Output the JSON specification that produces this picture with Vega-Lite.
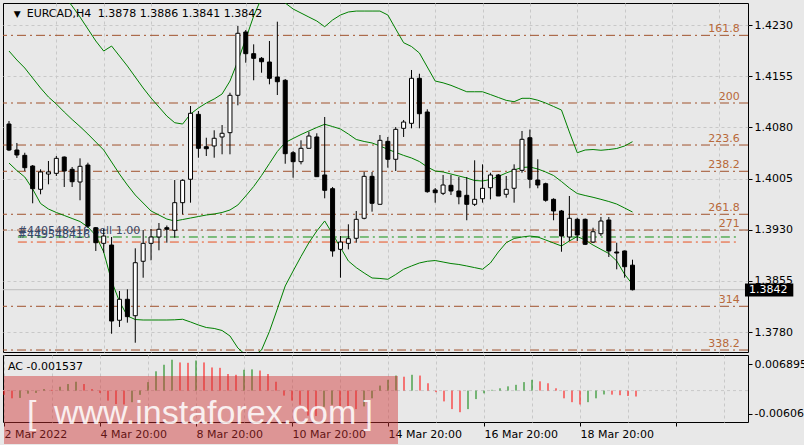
{
"$schema":"https://vega.github.io/schema/vega-lite/v6.json",
"background":"#E8E8E8",
"padding":{"left":2,"top":2,"right":0,"bottom":0},
"autosize":{"type":"pad"},
"spacing":3,
"bounds":"flush",
"config":{"view":{"stroke":"#000000","strokeWidth":1,"fill":"#E8E8E8"},"axis":{"labelFont":"DejaVu Sans","labelFontSize":11,"labelColor":"#000000","domain":false,"tickColor":"#000000"},"text":{"font":"DejaVu Sans","fontSize":11}},
"datasets":{
"fib":[{"lvl":"161.8","p":1.42149},{"lvl":"200","p":1.41157},{"lvl":"223.6","p":1.40541},{"lvl":"238.2","p":1.40156},{"lvl":"261.8","p":1.39526},{"lvl":"271","p":1.39295},{"lvl":"314","p":1.38177},{"lvl":"338.2","p":1.37536}],
"bars":[
{"i":0,"o":1.40849,"h":1.40893,"l":1.40453,"c":1.40468,"bu":1.43678,"bm":1.41919,"bl":1.40277,"ac":-0.0011,"d":"dn"},
{"i":1,"o":1.40468,"h":1.40571,"l":1.40351,"c":1.40395,"bu":1.43531,"bm":1.41787,"bl":1.40167,"ac":-0.0020,"d":"dn"},
{"i":2,"o":1.40390,"h":1.40428,"l":1.40160,"c":1.40209,"bu":1.43385,"bm":1.41670,"bl":1.40072,"ac":-0.0019,"d":"up"},
{"i":3,"o":1.40233,"h":1.40248,"l":1.39687,"c":1.39901,"bu":1.43238,"bm":1.41523,"bl":1.39896,"ac":-0.0008,"d":"up"},
{"i":4,"o":1.39892,"h":1.40185,"l":1.39819,"c":1.40146,"bu":1.43092,"bm":1.41377,"bl":1.39684,"ac":-0.0006,"d":"up"},
{"i":5,"o":1.40116,"h":1.40307,"l":1.39965,"c":1.40146,"bu":1.42945,"bm":1.41245,"bl":1.39603,"ac":0.0004,"d":"up"},
{"i":6,"o":1.40126,"h":1.40380,"l":1.40087,"c":1.40346,"bu":1.42828,"bm":1.41142,"bl":1.39552,"ac":0.0002,"d":"dn"},
{"i":7,"o":1.40365,"h":1.40373,"l":1.39926,"c":1.40160,"bu":1.42725,"bm":1.41025,"bl":1.39508,"ac":0.0010,"d":"up"},
{"i":8,"o":1.40185,"h":1.40219,"l":1.39926,"c":1.40003,"bu":1.42579,"bm":1.40915,"bl":1.39464,"ac":0.0017,"d":"up"},
{"i":9,"o":1.39999,"h":1.40346,"l":1.39731,"c":1.40229,"bu":1.42417,"bm":1.40812,"bl":1.39420,"ac":0.0023,"d":"up"},
{"i":10,"o":1.40248,"h":1.40282,"l":1.39325,"c":1.39354,"bu":1.42242,"bm":1.40702,"bl":1.39339,"ac":0.0017,"d":"dn"},
{"i":11,"o":1.39329,"h":1.39339,"l":1.38988,"c":1.39109,"bu":1.42066,"bm":1.40585,"bl":1.39215,"ac":0.0004,"d":"dn"},
{"i":12,"o":1.39100,"h":1.39310,"l":1.38963,"c":1.39207,"bu":1.41919,"bm":1.40468,"bl":1.38973,"ac":-0.0006,"d":"dn"},
{"i":13,"o":1.39075,"h":1.39193,"l":1.37775,"c":1.37961,"bu":1.41992,"bm":1.40292,"bl":1.38548,"ac":-0.0026,"d":"dn"},
{"i":14,"o":1.37972,"h":1.38401,"l":1.37874,"c":1.38280,"bu":1.41846,"bm":1.40116,"bl":1.38247,"ac":-0.0035,"d":"dn"},
{"i":15,"o":1.38280,"h":1.38426,"l":1.37937,"c":1.38025,"bu":1.41699,"bm":1.39955,"bl":1.38035,"ac":-0.0036,"d":"dn"},
{"i":16,"o":1.38039,"h":1.39027,"l":1.37643,"c":1.38816,"bu":1.41538,"bm":1.39808,"bl":1.37983,"ac":-0.0030,"d":"up"},
{"i":17,"o":1.38837,"h":1.39295,"l":1.38596,"c":1.39100,"bu":1.41377,"bm":1.39691,"bl":1.37976,"ac":-0.0011,"d":"up"},
{"i":18,"o":1.39100,"h":1.39310,"l":1.38851,"c":1.39193,"bu":1.41230,"bm":1.39574,"bl":1.37976,"ac":0.0022,"d":"up"},
{"i":19,"o":1.39193,"h":1.39398,"l":1.38998,"c":1.39306,"bu":1.41098,"bm":1.39515,"bl":1.37976,"ac":0.0050,"d":"up"},
{"i":20,"o":1.39329,"h":1.39361,"l":1.39109,"c":1.39306,"bu":1.40966,"bm":1.39456,"bl":1.37976,"ac":0.0067,"d":"up"},
{"i":21,"o":1.39291,"h":1.40028,"l":1.39182,"c":1.39696,"bu":1.40868,"bm":1.39427,"bl":1.37979,"ac":0.0080,"d":"up"},
{"i":22,"o":1.39696,"h":1.40039,"l":1.39525,"c":1.40024,"bu":1.40849,"bm":1.39449,"bl":1.37987,"ac":0.0073,"d":"dn"},
{"i":23,"o":1.40039,"h":1.41113,"l":1.39696,"c":1.41006,"bu":1.40996,"bm":1.39471,"bl":1.37947,"ac":0.0072,"d":"dn"},
{"i":24,"o":1.40991,"h":1.41040,"l":1.40355,"c":1.40493,"bu":1.41084,"bm":1.39493,"bl":1.37903,"ac":0.0078,"d":"up"},
{"i":25,"o":1.40516,"h":1.40648,"l":1.40380,"c":1.40487,"bu":1.41157,"bm":1.39515,"bl":1.37866,"ac":0.0073,"d":"dn"},
{"i":26,"o":1.40527,"h":1.40757,"l":1.40355,"c":1.40640,"bu":1.41216,"bm":1.39530,"bl":1.37852,"ac":0.0060,"d":"dn"},
{"i":27,"o":1.40659,"h":1.40834,"l":1.40405,"c":1.40713,"bu":1.41289,"bm":1.39552,"bl":1.37822,"ac":0.0059,"d":"dn"},
{"i":28,"o":1.40722,"h":1.41308,"l":1.40405,"c":1.41270,"bu":1.41479,"bm":1.39589,"bl":1.37742,"ac":0.0043,"d":"dn"},
{"i":29,"o":1.41270,"h":1.42286,"l":1.41123,"c":1.42179,"bu":1.41773,"bm":1.39662,"bl":1.37566,"ac":0.0041,"d":"dn"},
{"i":30,"o":1.42198,"h":1.42227,"l":1.41748,"c":1.41880,"bu":1.42095,"bm":1.39794,"bl":1.37463,"ac":0.0054,"d":"up"},
{"i":31,"o":1.41880,"h":1.42017,"l":1.41490,"c":1.41812,"bu":1.42432,"bm":1.39933,"bl":1.37449,"ac":0.0055,"d":"up"},
{"i":32,"o":1.41812,"h":1.41831,"l":1.41601,"c":1.41762,"bu":1.42696,"bm":1.40094,"bl":1.37536,"ac":0.0052,"d":"dn"},
{"i":33,"o":1.41758,"h":1.42066,"l":1.41431,"c":1.41519,"bu":1.42872,"bm":1.40270,"bl":1.37808,"ac":0.0043,"d":"dn"},
{"i":34,"o":1.41538,"h":1.42349,"l":1.41274,"c":1.41469,"bu":1.42799,"bm":1.40446,"bl":1.38138,"ac":0.0023,"d":"dn"},
{"i":35,"o":1.41490,"h":1.41509,"l":1.40267,"c":1.40414,"bu":1.42623,"bm":1.40578,"bl":1.38475,"ac":-0.0013,"d":"dn"},
{"i":36,"o":1.40428,"h":1.40453,"l":1.40062,"c":1.40297,"bu":1.42535,"bm":1.40637,"bl":1.38694,"ac":-0.0026,"d":"dn"},
{"i":37,"o":1.40297,"h":1.40610,"l":1.40258,"c":1.40493,"bu":1.42476,"bm":1.40695,"bl":1.38907,"ac":-0.0037,"d":"dn"},
{"i":38,"o":1.40493,"h":1.40736,"l":1.40493,"c":1.40673,"bu":1.42417,"bm":1.40747,"bl":1.39109,"ac":-0.0065,"d":"dn"},
{"i":39,"o":1.40659,"h":1.40713,"l":1.40077,"c":1.40077,"bu":1.42359,"bm":1.40798,"bl":1.39281,"ac":-0.0066,"d":"dn"},
{"i":40,"o":1.40102,"h":1.40952,"l":1.39760,"c":1.39877,"bu":1.42275,"bm":1.40845,"bl":1.39428,"ac":-0.0042,"d":"up"},
{"i":41,"o":1.39901,"h":1.39926,"l":1.38904,"c":1.38988,"bu":1.42374,"bm":1.40812,"bl":1.39237,"ac":-0.0037,"d":"up"},
{"i":42,"o":1.39012,"h":1.39207,"l":1.38596,"c":1.39119,"bu":1.42447,"bm":1.40776,"bl":1.39039,"ac":-0.0041,"d":"dn"},
{"i":43,"o":1.39100,"h":1.39379,"l":1.39012,"c":1.39168,"bu":1.42491,"bm":1.40702,"bl":1.38841,"ac":-0.0045,"d":"dn"},
{"i":44,"o":1.39174,"h":1.39574,"l":1.39109,"c":1.39452,"bu":1.42505,"bm":1.40622,"bl":1.38744,"ac":-0.0048,"d":"dn"},
{"i":45,"o":1.39467,"h":1.40146,"l":1.39452,"c":1.40082,"bu":1.42505,"bm":1.40593,"bl":1.38665,"ac":-0.0041,"d":"up"},
{"i":46,"o":1.40082,"h":1.40146,"l":1.39564,"c":1.39687,"bu":1.42505,"bm":1.40571,"bl":1.38592,"ac":-0.0020,"d":"up"},
{"i":47,"o":1.39672,"h":1.40688,"l":1.39672,"c":1.40610,"bu":1.42505,"bm":1.40527,"bl":1.38585,"ac":0.0013,"d":"up"},
{"i":48,"o":1.40595,"h":1.40659,"l":1.40209,"c":1.40332,"bu":1.42447,"bm":1.40478,"bl":1.38573,"ac":0.0028,"d":"up"},
{"i":49,"o":1.40332,"h":1.40805,"l":1.40160,"c":1.40771,"bu":1.42242,"bm":1.40433,"bl":1.38643,"ac":0.0039,"d":"up"},
{"i":50,"o":1.40786,"h":1.40908,"l":1.40659,"c":1.40878,"bu":1.42041,"bm":1.40389,"bl":1.38720,"ac":0.0036,"d":"dn"},
{"i":51,"o":1.40859,"h":1.41641,"l":1.40786,"c":1.41519,"bu":1.41985,"bm":1.40351,"bl":1.38768,"ac":0.0041,"d":"up"},
{"i":52,"o":1.41519,"h":1.41586,"l":1.40786,"c":1.41000,"bu":1.41890,"bm":1.40299,"bl":1.38812,"ac":0.0039,"d":"dn"},
{"i":53,"o":1.41025,"h":1.41065,"l":1.39842,"c":1.39857,"bu":1.41685,"bm":1.40219,"bl":1.38837,"ac":0.0019,"d":"dn"},
{"i":54,"o":1.39882,"h":1.39911,"l":1.39696,"c":1.39842,"bu":1.41479,"bm":1.40160,"bl":1.38848,"ac":-0.0004,"d":"dn"},
{"i":55,"o":1.39833,"h":1.40102,"l":1.39808,"c":1.39955,"bu":1.41453,"bm":1.40146,"bl":1.38826,"ac":-0.0028,"d":"dn"},
{"i":56,"o":1.39951,"h":1.40102,"l":1.39808,"c":1.39867,"bu":1.41416,"bm":1.40116,"bl":1.38804,"ac":-0.0048,"d":"dn"},
{"i":57,"o":1.39867,"h":1.40072,"l":1.39672,"c":1.39783,"bu":1.41369,"bm":1.40087,"bl":1.38790,"ac":-0.0056,"d":"dn"},
{"i":58,"o":1.39804,"h":1.40072,"l":1.39438,"c":1.39672,"bu":1.41322,"bm":1.40058,"bl":1.38768,"ac":-0.0048,"d":"up"},
{"i":59,"o":1.39672,"h":1.40317,"l":1.39647,"c":1.39745,"bu":1.41322,"bm":1.40021,"bl":1.38744,"ac":-0.0022,"d":"up"},
{"i":60,"o":1.39754,"h":1.40258,"l":1.39696,"c":1.39907,"bu":1.41322,"bm":1.40014,"bl":1.38720,"ac":-0.0007,"d":"up"},
{"i":61,"o":1.39915,"h":1.40135,"l":1.39745,"c":1.40102,"bu":1.41281,"bm":1.40036,"bl":1.38812,"ac":0.0002,"d":"up"},
{"i":62,"o":1.40102,"h":1.40116,"l":1.39794,"c":1.39794,"bu":1.41238,"bm":1.40080,"bl":1.38973,"ac":0.0006,"d":"up"},
{"i":63,"o":1.39819,"h":1.40087,"l":1.39769,"c":1.39892,"bu":1.41196,"bm":1.40131,"bl":1.39109,"ac":0.0011,"d":"up"},
{"i":64,"o":1.39907,"h":1.40258,"l":1.39696,"c":1.40185,"bu":1.41176,"bm":1.40175,"bl":1.39171,"ac":0.0015,"d":"up"},
{"i":65,"o":1.40170,"h":1.40747,"l":1.40135,"c":1.40625,"bu":1.41226,"bm":1.40212,"bl":1.39193,"ac":0.0022,"d":"up"},
{"i":66,"o":1.40648,"h":1.40768,"l":1.39907,"c":1.40039,"bu":1.41226,"bm":1.40219,"bl":1.39207,"ac":0.0028,"d":"up"},
{"i":67,"o":1.40028,"h":1.40332,"l":1.39907,"c":1.39955,"bu":1.41198,"bm":1.40190,"bl":1.39193,"ac":0.0024,"d":"dn"},
{"i":68,"o":1.39974,"h":1.39989,"l":1.39710,"c":1.39731,"bu":1.41157,"bm":1.40146,"bl":1.39149,"ac":0.0019,"d":"dn"},
{"i":69,"o":1.39745,"h":1.39760,"l":1.39438,"c":1.39574,"bu":1.41106,"bm":1.40094,"bl":1.39105,"ac":0.0006,"d":"dn"},
{"i":70,"o":1.39574,"h":1.39589,"l":1.38977,"c":1.39207,"bu":1.41054,"bm":1.40006,"bl":1.39061,"ac":-0.0020,"d":"dn"},
{"i":71,"o":1.39193,"h":1.39794,"l":1.39134,"c":1.39467,"bu":1.40732,"bm":1.39911,"bl":1.39134,"ac":-0.0030,"d":"dn"},
{"i":72,"o":1.39452,"h":1.39476,"l":1.39134,"c":1.39222,"bu":1.40428,"bm":1.39830,"bl":1.39200,"ac":-0.0036,"d":"dn"},
{"i":73,"o":1.39452,"h":1.39464,"l":1.39075,"c":1.39086,"bu":1.40468,"bm":1.39801,"bl":1.39149,"ac":-0.0030,"d":"up"},
{"i":74,"o":1.39119,"h":1.39329,"l":1.39105,"c":1.39270,"bu":1.40475,"bm":1.39775,"bl":1.39075,"ac":-0.0020,"d":"up"},
{"i":75,"o":1.39241,"h":1.39486,"l":1.39207,"c":1.39427,"bu":1.40464,"bm":1.39745,"bl":1.39012,"ac":-0.0010,"d":"up"},
{"i":76,"o":1.39442,"h":1.39486,"l":1.38900,"c":1.38988,"bu":1.40475,"bm":1.39713,"bl":1.38951,"ac":-0.00105,"d":"dn"},
{"i":77,"o":1.38973,"h":1.39109,"l":1.38719,"c":1.38958,"bu":1.40490,"bm":1.39676,"bl":1.38841,"ac":-0.0012,"d":"dn"},
{"i":78,"o":1.38988,"h":1.38995,"l":1.38596,"c":1.38757,"bu":1.40527,"bm":1.39618,"bl":1.38646,"ac":-0.0014,"d":"dn"},
{"i":79,"o":1.3878,"h":1.3886,"l":1.3841,"c":1.3842,"bu":1.40590,"bm":1.39559,"bl":1.38499,"ac":-0.001537,"d":"dn"}
]},
"vconcat":[
{
"width":745,"height":349,
"data":{"name":"bars"},
"layer":[
{"data":{"values":[{}]},"mark":{"type":"rule","color":"#BEBEBE","strokeWidth":1},
 "encoding":{"y":{"datum":1.3842,"type":"quantitative","scale":{"domain":[1.37507,1.42623],"nice":false,"zero":false}}}},
{"data":{"name":"fib"},"mark":{"type":"rule","color":"#A0522D","strokeWidth":1,"strokeDash":[9,4,2,4]},
 "encoding":{"y":{"field":"p","type":"quantitative","scale":{"domain":[1.37507,1.42623],"nice":false,"zero":false},
  "axis":{"orient":"right","values":[1.378,1.3855,1.393,1.4005,1.408,1.4155,1.423],"format":".4f","grid":true,"gridColor":"#C8C8C8","gridDash":[3,3],"tickSize":4,"labelPadding":2,"labelOverlap":false,"title":null}}}},
{"data":{"values":[{}]},"mark":{"type":"rule","color":"#109010","strokeWidth":1,"strokeDash":[9,4,2,4]},
 "encoding":{"x":{"datum":1.125,"type":"quantitative"},"x2":{"datum":92.375},"y":{"datum":1.39193,"type":"quantitative"}}},
{"data":{"values":[{}]},"mark":{"type":"rule","color":"#E8501E","strokeWidth":1,"strokeDash":[9,4,2,4]},
 "encoding":{"x":{"datum":1.125,"type":"quantitative"},"x2":{"datum":92.375},"y":{"datum":1.39119,"type":"quantitative"}}},
{"data":{"values":[{}]},"mark":{"type":"text","align":"left","baseline":"alphabetic","color":"#3A4A6A"},
 "encoding":{"x":{"datum":1.125,"type":"quantitative"},"y":{"datum":1.39232,"type":"quantitative"},"text":{"value":"#440548416 sell 1.00"}}},
{"data":{"values":[{}]},"mark":{"type":"text","align":"left","baseline":"alphabetic","color":"#3A4A6A"},
 "encoding":{"x":{"datum":1.125,"type":"quantitative"},"y":{"datum":1.39182,"type":"quantitative"},"text":{"value":"#449548416"}}},
{"mark":{"type":"line","color":"#008000","strokeWidth":1,"clip":true},
 "encoding":{"x":{"field":"i","type":"quantitative","axis":{"title":null}},"y":{"field":"bu","type":"quantitative","axis":{"title":null}}}},
{"mark":{"type":"line","color":"#008000","strokeWidth":1,"clip":true},
 "encoding":{"x":{"field":"i","type":"quantitative","axis":{"title":null}},"y":{"field":"bm","type":"quantitative","axis":{"title":null}}}},
{"mark":{"type":"line","color":"#008000","strokeWidth":1,"clip":true},
 "encoding":{"x":{"field":"i","type":"quantitative","axis":{"title":null}},"y":{"field":"bl","type":"quantitative","axis":{"title":null}}}},
{"mark":{"type":"rule","color":"#000000","strokeWidth":1,"clip":true},
 "encoding":{"x":{"field":"i","type":"quantitative","scale":{"domain":[-0.125,93],"nice":false,"zero":false},
   "axis":{"values":[6,12,18,24,30,36,42,48,54,60,66,72,78,84,90],"labels":false,"ticks":false,"domain":false,"grid":true,"gridColor":"#C8C8C8","gridDash":[3,3],"title":null}},
  "y":{"field":"l","type":"quantitative","axis":{"title":null}},"y2":{"field":"h"}}},
{"mark":{"type":"bar","size":4,"stroke":"#000000","strokeWidth":1,"clip":true},
 "encoding":{"x":{"field":"i","type":"quantitative","axis":{"title":null}},"y":{"field":"o","type":"quantitative","axis":{"title":null}},"y2":{"field":"c"},
  "fill":{"condition":{"test":"datum.c >= datum.o","value":"#FFFFFF"},"value":"#000000"}}},
{"data":{"name":"fib"},"mark":{"type":"text","align":"right","baseline":"bottom","dy":-1,"color":"#B8693A"},
 "encoding":{"x":{"datum":92.6,"type":"quantitative"},"y":{"field":"p","type":"quantitative","axis":{"title":null}},"text":{"field":"lvl"}}},
{"data":{"values":[{}]},"mark":{"type":"rect","color":"#000000"},
 "encoding":{"x":{"datum":93.25,"type":"quantitative"},"x2":{"datum":99.375},"y":{"datum":1.38511,"type":"quantitative"},"y2":{"datum":1.38321}}},
{"data":{"values":[{}]},"mark":{"type":"text","align":"left","baseline":"middle","color":"#FFFFFF"},
 "encoding":{"x":{"datum":93.75,"type":"quantitative"},"y":{"datum":1.3842,"type":"quantitative"},"text":{"value":"1.3842"}}},
{"data":{"values":[{}]},"mark":{"type":"text","align":"left","baseline":"middle","color":"#000000","fontSize":9},
 "encoding":{"x":{"datum":0.6,"type":"quantitative"},"y":{"datum":1.42461,"type":"quantitative"},"text":{"value":"▼"}}},
{"data":{"values":[{}]},"mark":{"type":"text","align":"left","baseline":"middle","color":"#000000"},
 "encoding":{"x":{"datum":2.25,"type":"quantitative"},"y":{"datum":1.42461,"type":"quantitative"},"text":{"value":"EURCAD,H4"}}},
{"data":{"values":[{}]},"mark":{"type":"text","align":"left","baseline":"middle","color":"#000000"},
 "encoding":{"x":{"datum":11.25,"type":"quantitative"},"y":{"datum":1.42461,"type":"quantitative"},"text":{"value":"1.3878 1.3886 1.3841 1.3842"}}}
]
},
{
"width":745,"height":67,
"data":{"name":"bars"},
"layer":[
{"data":{"values":[{}]},"mark":{"type":"rule","color":"#C8C8C8","strokeDash":[3,3]},
 "encoding":{"y":{"datum":0,"type":"quantitative","scale":{"domain":[-0.008139,0.009228],"nice":false,"zero":false}}}},
{"mark":{"type":"rule","strokeWidth":1},
 "encoding":{"x":{"field":"i","type":"quantitative","scale":{"domain":[-0.125,93],"nice":false,"zero":false},
   "axis":{"values":[0,6,12,18,24,30,36,42,48,54,60,66,72,78,84,90],"grid":true,"gridColor":"#C8C8C8","gridDash":[3,3],"tickSize":4,"labelPadding":2,"labelAlign":"left","labelOverlap":false,"labelFlush":false,
   "tickOpacity":{"condition":{"test":"datum.value % 12 == 0","value":1},"value":0},
   "labelExpr":"datum.value==0?'2 Mar 2022':datum.value==12?'4 Mar 20:00':datum.value==24?'8 Mar 20:00':datum.value==36?'10 Mar 20:00':datum.value==48?'14 Mar 20:00':datum.value==60?'16 Mar 20:00':datum.value==72?'18 Mar 20:00':''","title":null}},
  "y":{"field":"ac","type":"quantitative","scale":{"domain":[-0.008139,0.009228],"nice":false,"zero":false},
   "axis":{"orient":"right","values":[0.006895,0,-0.006065],"labelExpr":"datum.value==0?'0.00':datum.value>0?'0.006895':'-0.006065'","grid":false,"tickSize":4,"labelPadding":2,"labelOverlap":false,"title":null}},
  "y2":{"datum":0},
  "color":{"field":"d","type":"nominal","scale":{"domain":["up","dn"],"range":["#008000","#FF0000"]},"legend":null}}},
{"data":{"values":[{}]},"mark":{"type":"rect","color":"#D03030","opacity":0.45,"clip":false},
 "encoding":{"x":{"datum":0,"type":"quantitative"},"x2":{"datum":49.25},"y":{"datum":0.003785,"type":"quantitative"},"y2":{"datum":-0.013841}}},
{"data":{"values":[{}]},"mark":{"type":"text","align":"left","baseline":"alphabetic","color":"#FFFFFF","opacity":0.85,"font":"Liberation Sans","fontSize":34},
 "encoding":{"x":{"datum":2.875,"type":"quantitative"},"y":{"datum":-0.008657,"type":"quantitative"},"text":{"value":"["}}},
{"data":{"values":[{}]},"mark":{"type":"text","align":"left","baseline":"alphabetic","color":"#FFFFFF","opacity":0.85,"font":"Liberation Sans","fontSize":34},
 "encoding":{"x":{"datum":6.25,"type":"quantitative"},"y":{"datum":-0.008657,"type":"quantitative"},"text":{"value":"www.instaforex.com"}}},
{"data":{"values":[{}]},"mark":{"type":"text","align":"right","baseline":"alphabetic","color":"#FFFFFF","opacity":0.85,"font":"Liberation Sans","fontSize":34},
 "encoding":{"x":{"datum":46.125,"type":"quantitative"},"y":{"datum":-0.008657,"type":"quantitative"},"text":{"value":"]"}}},
{"data":{"values":[{}]},"mark":{"type":"text","align":"left","baseline":"middle","color":"#000000"},
 "encoding":{"x":{"datum":0.5,"type":"quantitative"},"y":{"datum":0.00612,"type":"quantitative"},"text":{"value":"AC -0.001537"}}}
]
}
]
}
